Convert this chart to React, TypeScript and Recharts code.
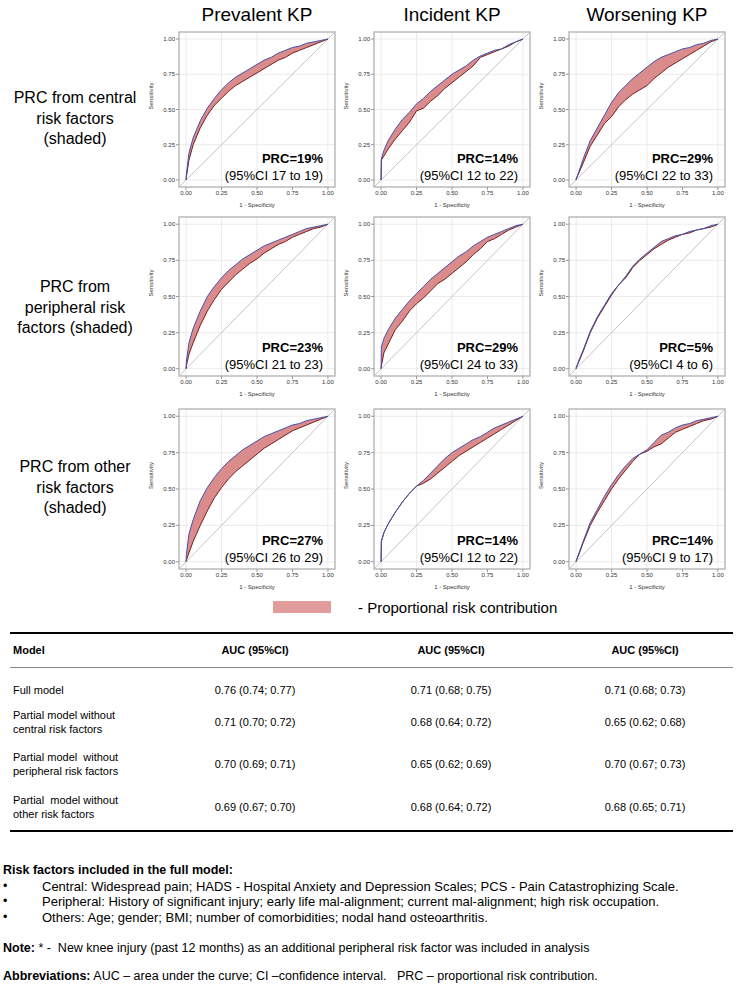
import React from 'react'
import {
  ComposedChart,
  Area,
  Line,
  XAxis,
  YAxis,
  CartesianGrid,
  ReferenceArea,
  ReferenceLine,
} from 'recharts'

// shared false-positive-rate grid (1 - specificity)
const fpr = [0, 0.002, 0.02, 0.05, 0.1, 0.15, 0.2, 0.25, 0.3, 0.35, 0.4, 0.45, 0.5, 0.55, 0.6, 0.65, 0.7, 0.75, 0.8, 0.85, 0.9, 0.95, 1]

// sensitivity: full model (blue) and partial model (dark red)
const prevCentralFull = [0, 0.04, 0.19, 0.30, 0.42, 0.51, 0.58, 0.64, 0.69, 0.73, 0.76, 0.79, 0.82, 0.85, 0.87, 0.90, 0.92, 0.94, 0.95, 0.97, 0.98, 0.99, 1]
const prevCentralPart = [0, 0.02, 0.14, 0.25, 0.37, 0.46, 0.53, 0.58, 0.63, 0.67, 0.70, 0.73, 0.76, 0.79, 0.82, 0.85, 0.87, 0.90, 0.92, 0.94, 0.96, 0.98, 1]
const incCentralFull = [0, 0.15, 0.21, 0.28, 0.36, 0.43, 0.48, 0.54, 0.58, 0.63, 0.67, 0.71, 0.75, 0.78, 0.81, 0.85, 0.88, 0.90, 0.92, 0.93, 0.96, 0.98, 1]
const incCentralPart = [0, 0.14, 0.17, 0.22, 0.29, 0.35, 0.41, 0.49, 0.51, 0.56, 0.60, 0.65, 0.69, 0.73, 0.77, 0.81, 0.87, 0.89, 0.91, 0.93, 0.95, 0.98, 1]
const worCentralFull = [0, 0.01, 0.06, 0.15, 0.28, 0.37, 0.46, 0.55, 0.62, 0.67, 0.72, 0.76, 0.80, 0.84, 0.87, 0.89, 0.91, 0.93, 0.94, 0.96, 0.97, 0.99, 1]
const worCentralPart = [0, 0.01, 0.05, 0.12, 0.24, 0.32, 0.40, 0.45, 0.52, 0.57, 0.61, 0.64, 0.67, 0.72, 0.76, 0.80, 0.83, 0.86, 0.89, 0.92, 0.95, 0.98, 1]

const prevPeriphFull = [0, 0.05, 0.18, 0.28, 0.40, 0.50, 0.57, 0.63, 0.68, 0.72, 0.76, 0.79, 0.82, 0.85, 0.87, 0.89, 0.91, 0.93, 0.95, 0.97, 0.98, 0.99, 1]
const prevPeriphPart = [0, 0.02, 0.10, 0.18, 0.30, 0.40, 0.48, 0.55, 0.60, 0.65, 0.69, 0.73, 0.76, 0.80, 0.83, 0.86, 0.88, 0.91, 0.93, 0.95, 0.97, 0.98, 1]
const incPeriphFull = [0, 0.15, 0.21, 0.27, 0.35, 0.41, 0.47, 0.52, 0.57, 0.62, 0.66, 0.70, 0.74, 0.78, 0.81, 0.85, 0.88, 0.91, 0.93, 0.95, 0.97, 0.99, 1]
const incPeriphPart = [0, 0.02, 0.11, 0.17, 0.27, 0.33, 0.40, 0.45, 0.49, 0.54, 0.59, 0.62, 0.66, 0.70, 0.74, 0.79, 0.83, 0.88, 0.90, 0.93, 0.96, 0.98, 1]
const worPeriphFull = [0, 0.01, 0.06, 0.13, 0.26, 0.36, 0.44, 0.52, 0.58, 0.64, 0.71, 0.76, 0.80, 0.84, 0.88, 0.90, 0.92, 0.93, 0.95, 0.96, 0.97, 0.99, 1]
const worPeriphPart = [0, 0.01, 0.05, 0.12, 0.25, 0.35, 0.43, 0.51, 0.58, 0.63, 0.70, 0.75, 0.79, 0.83, 0.86, 0.89, 0.91, 0.93, 0.94, 0.96, 0.97, 0.98, 1]

const prevOtherFull = [0, 0.05, 0.19, 0.29, 0.42, 0.51, 0.58, 0.64, 0.69, 0.73, 0.77, 0.80, 0.83, 0.86, 0.88, 0.90, 0.92, 0.94, 0.95, 0.97, 0.98, 0.99, 1]
const prevOtherPart = [0, 0.01, 0.06, 0.14, 0.25, 0.35, 0.44, 0.51, 0.57, 0.62, 0.66, 0.70, 0.74, 0.78, 0.81, 0.84, 0.87, 0.90, 0.92, 0.94, 0.96, 0.98, 1]
const incOtherFull = [0, 0.14, 0.20, 0.26, 0.34, 0.41, 0.47, 0.52, 0.56, 0.61, 0.66, 0.71, 0.75, 0.78, 0.81, 0.84, 0.86, 0.89, 0.92, 0.94, 0.96, 0.98, 1]
const incOtherPart = [0, 0.14, 0.20, 0.26, 0.34, 0.41, 0.47, 0.52, 0.54, 0.57, 0.61, 0.65, 0.69, 0.73, 0.76, 0.79, 0.82, 0.85, 0.88, 0.91, 0.94, 0.97, 1]
const worOtherFull = [0, 0.01, 0.06, 0.14, 0.27, 0.36, 0.45, 0.53, 0.60, 0.66, 0.71, 0.74, 0.77, 0.82, 0.87, 0.89, 0.92, 0.94, 0.95, 0.97, 0.98, 0.99, 1]
const worOtherPart = [0, 0.01, 0.05, 0.13, 0.25, 0.34, 0.42, 0.50, 0.57, 0.63, 0.69, 0.74, 0.76, 0.79, 0.81, 0.85, 0.89, 0.91, 0.93, 0.95, 0.97, 0.98, 1]

const outcomes = ['Prevalent KP', 'Incident KP', 'Worsening KP']
const rowLabels = [
  ['PRC from central', 'risk factors', '(shaded)'],
  ['PRC from', 'peripheral risk', 'factors (shaded)'],
  ['PRC from other', 'risk factors', '(shaded)'],
]
const prcValues = ['19%', '14%', '29%', '23%', '29%', '5%', '27%', '14%', '14%']
const prcCis = ['17 to 19', '12 to 22', '22 to 33', '21 to 23', '24 to 33', '4 to 6', '26 to 29', '12 to 22', '9 to 17']

const modelNames = [
  ['Full model'],
  ['Partial model without', 'central risk factors'],
  ['Partial model  without', 'peripheral risk factors'],
  ['Partial  model without', 'other risk factors'],
]
const aucPrevalent = ['0.76 (0.74; 0.77)', '0.71 (0.70; 0.72)', '0.70 (0.69; 0.71)', '0.69 (0.67; 0.70)']
const aucIncident = ['0.71 (0.68; 0.75)', '0.68 (0.64; 0.72)', '0.65 (0.62; 0.69)', '0.68 (0.64; 0.72)']
const aucWorsening = ['0.71 (0.68; 0.73)', '0.65 (0.62; 0.68)', '0.70 (0.67; 0.73)', '0.68 (0.65; 0.71)']

const curves = [
  [prevCentralFull, prevCentralPart], [incCentralFull, incCentralPart], [worCentralFull, worCentralPart],
  [prevPeriphFull, prevPeriphPart], [incPeriphFull, incPeriphPart], [worPeriphFull, worPeriphPart],
  [prevOtherFull, prevOtherPart], [incOtherFull, incOtherPart], [worOtherFull, worOtherPart],
]

const FONT = 'Arial, "Liberation Sans", sans-serif'
const colLeft = [179, 374, 569]
const rowTop = [32, 217, 409]
const rowH = [155, 159, 160]
const FRAME_W = 156
const ticks = [0, 0.25, 0.5, 0.75, 1]

function Txt({ x, y, size = 11, bold = false, anchor = 'left', children }: any) {
  const tx = anchor === 'center' ? '-50%' : anchor === 'right' ? '-100%' : '0'
  return (
    <div
      style={{
        position: 'absolute',
        left: x,
        top: y,
        transform: `translate(${tx}, -50%)`,
        fontSize: size,
        fontWeight: bold ? 'bold' : 'normal',
        lineHeight: 1,
        whiteSpace: 'pre',
        color: '#000',
      }}
    >
      {children}
    </div>
  )
}

function RocPanel({ idx }: { idx: number }) {
  const r = Math.floor(idx / 3)
  const c = idx % 3
  const [full, part] = curves[idx]
  const data = fpr.map((x, i) => ({ fpr: x, full: full[i], part: part[i], band: [part[i], full[i]] }))
  const left = colLeft[c]
  const top = rowTop[r]
  const h = rowH[r]
  const axisTick = { fontSize: 6, fill: '#333', fontFamily: FONT }
  return (
    <>
      <div style={{ position: 'absolute', left: left - 32, top: top - 4 }}>
        <ComposedChart
          width={32 + FRAME_W + 4}
          height={4 + h + 22}
          data={data}
          margin={{ top: 4, right: 4, bottom: 0, left: 0 }}
        >
          <CartesianGrid stroke="#e6e6e6" strokeWidth={0.8} />
          <XAxis
            type="number"
            dataKey="fpr"
            domain={[-0.05, 1.05]}
            allowDataOverflow
            ticks={ticks}
            tickFormatter={(v: number) => v.toFixed(2)}
            tick={axisTick}
            tickSize={3}
            tickMargin={1}
            tickLine={{ stroke: '#999' }}
            axisLine={false}
            height={22}
            label={{ value: '1 - Specificity', position: 'insideBottom', offset: 2, fontSize: 6, fill: '#333', fontFamily: FONT }}
          />
          <YAxis
            type="number"
            domain={[-0.05, 1.05]}
            allowDataOverflow
            ticks={ticks}
            tickFormatter={(v: number) => v.toFixed(2)}
            tick={axisTick}
            tickSize={3}
            tickMargin={1}
            tickLine={{ stroke: '#999' }}
            axisLine={false}
            width={32}
            label={{ value: 'Sensitivity', angle: -90, position: 'insideLeft', offset: 4, fontSize: 6, fill: '#333', fontFamily: FONT }}
          />
          <ReferenceLine
            segment={[{ x: -0.05, y: -0.05 }, { x: 1.05, y: 1.05 }]}
            stroke="#c4c4c4"
            strokeWidth={1}
          />
          <Area dataKey="band" type="linear" fill="#da8b8b" fillOpacity={1} stroke="none" isAnimationActive={false} />
          <Line dataKey="part" type="linear" stroke="#7a1d1d" strokeWidth={1} dot={false} isAnimationActive={false} />
          <Line dataKey="full" type="linear" stroke="#4353ad" strokeWidth={1} dot={false} isAnimationActive={false} />
          <ReferenceArea x1={-0.05} x2={1.05} y1={-0.05} y2={1.05} fill="none" stroke="#bdbdbd" strokeWidth={1.5} />
        </ComposedChart>
      </div>
      <Txt x={left + FRAME_W - 12} y={top + h - 29} size={13} bold anchor="right">{`PRC=${prcValues[idx]}`}</Txt>
      <Txt x={left + FRAME_W - 12} y={top + h - 12} size={13} anchor="right">{`(95%CI ${prcCis[idx]})`}</Txt>
    </>
  )
}

export default function App() {
  const aucCols = [aucPrevalent, aucIncident, aucWorsening]
  const colCenters = [255, 451, 645]
  const rowY = [690, 722, 764, 807]
  return (
    <div
      style={{
        position: 'absolute',
        left: 0,
        top: 0,
        width: 743,
        height: 986,
        background: '#fff',
        fontFamily: FONT,
        overflow: 'hidden',
      }}
    >
      {outcomes.map((o, i) => (
        <Txt key={o} x={colLeft[i] + 78} y={14} size={19} anchor="center">{o}</Txt>
      ))}
      {rowLabels.map((lines, r) =>
        lines.map((l, j) => (
          <Txt key={`${r}-${j}`} x={75} y={[98, 287, 467][r] + j * 20.5} size={16} anchor="center">{l}</Txt>
        ))
      )}
      {curves.map((_, i) => (
        <RocPanel key={i} idx={i} />
      ))}

      {/* legend */}
      <div style={{ position: 'absolute', left: 273, top: 601, width: 58, height: 12, background: '#e29c9c' }} />
      <Txt x={358} y={607} size={15}>- Proportional risk contribution</Txt>

      {/* table */}
      <div style={{ position: 'absolute', left: 10, top: 632, width: 723, height: 2, background: '#000' }} />
      <Txt x={13} y={650} bold>Model</Txt>
      {colCenters.map((x) => (
        <Txt key={x} x={x} y={650} bold anchor="center">AUC (95%CI)</Txt>
      ))}
      <div style={{ position: 'absolute', left: 10, top: 667, width: 723, height: 1, background: '#888' }} />
      {modelNames.map((lines, i) =>
        lines.map((l, j) => (
          <Txt key={`${i}-${j}`} x={13} y={rowY[i] + (lines.length > 1 ? (j - 0.5) * 14 : 0)}>{l}</Txt>
        ))
      )}
      {aucCols.map((col, c) =>
        col.map((v, i) => (
          <Txt key={`${c}-${i}`} x={colCenters[c]} y={rowY[i]} anchor="center">{v}</Txt>
        ))
      )}
      <div style={{ position: 'absolute', left: 10, top: 830, width: 723, height: 2, background: '#000' }} />

      {/* notes */}
      <Txt x={3} y={870} size={12.5} bold>Risk factors included in the full model:</Txt>
      <Txt x={3} y={886} size={12.5}>•</Txt>
      <Txt x={42} y={886} size={13}>Central: Widespread pain; HADS - Hospital Anxiety and Depression Scales; PCS - Pain Catastrophizing Scale.</Txt>
      <Txt x={3} y={901} size={12.5}>•</Txt>
      <Txt x={42} y={901} size={13}>Peripheral: History of significant injury; early life mal-alignment; current mal-alignment; high risk occupation.</Txt>
      <Txt x={3} y={917} size={12.5}>•</Txt>
      <Txt x={42} y={917} size={13}>Others: Age; gender; BMI; number of comorbidities; nodal hand osteoarthritis.</Txt>
      <Txt x={3} y={948} size={12.5}>
        <b>Note:</b>{' * -  New knee injury (past 12 months) as an additional peripheral risk factor was included in analysis'}
      </Txt>
      <Txt x={3} y={976} size={12.5}>
        <b>Abbreviations:</b>{' AUC – area under the curve; CI –confidence interval.   PRC – proportional risk contribution.'}
      </Txt>
    </div>
  )
}
